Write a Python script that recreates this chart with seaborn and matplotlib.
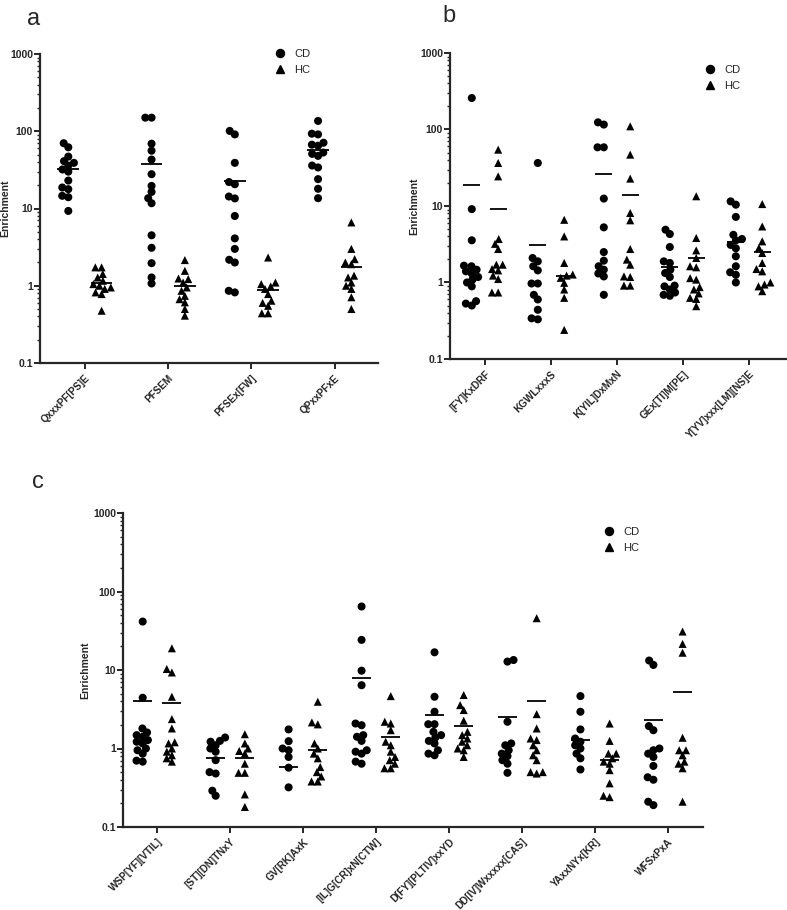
import numpy as np
import pandas as pd
import matplotlib
matplotlib.use("Agg")
import matplotlib.pyplot as plt
import seaborn as sns
from matplotlib.lines import Line2D
from matplotlib.collections import PathCollection
from matplotlib.ticker import LogLocator, NullFormatter

# ---- data ----
a_motifs = ["QxxxPF[PS]E", "PFSEM", "PFSEx[FW]", "QPxxPFxE"]
a_cd = [
    [70, 62, 47, 41, 39, 36, 32, 30, 23, 18.7, 17.8, 14.6, 14, 9.3],
    [150, 150, 69, 56, 43, 27.8, 19.6, 16.4, 13.6, 11.7, 4.5, 3.1, 1.96, 1.28, 1.07],
    [101, 91, 39, 22, 20.6, 14.3, 13.5, 8.0, 4.1, 3.0, 2.17, 2.0, 0.86, 0.82],
    [136, 93, 91, 71, 67, 65, 53, 51, 48, 36, 34, 24, 18, 13.6],
]
a_hc = [
    [1.73, 1.73, 1.42, 1.28, 1.16, 1.05, 1.0, 0.95, 0.91, 0.82, 0.78, 0.475],
    [2.15, 1.56, 1.24, 1.22, 1.1, 0.95, 0.86, 0.74, 0.67, 0.61, 0.5, 0.41],
    [2.32, 1.1, 1.05, 0.98, 0.91, 0.78, 0.64, 0.6, 0.55, 0.44, 0.44],
    [6.6, 3.0, 2.21, 2.0, 1.9, 1.35, 1.28, 1.1, 1.0, 0.91, 0.71, 0.5],
]
a_cd_mean = [32, 38, 22.5, 58]
a_hc_mean = [1.08, 1.0, 0.89, 1.75]

b_motifs = ["[FY]KxDRF", "KGWLxxxS", "K[YIL]DxMxN", "GEx[TI]M[PE]", "Y[YV]xxx[LM][NS]E"]
b_cd = [
    [258, 9.1, 3.56, 1.66, 1.63, 1.47, 1.4, 1.31, 1.18, 1.09, 1.0, 0.89, 0.57, 0.53, 0.5],
    [36.5, 2.09, 1.89, 1.63, 1.44, 0.97, 0.97, 0.69, 0.6, 0.44, 0.34, 0.33],
    [124, 116, 58.5, 58.5, 12.5, 5.26, 2.5, 1.93, 1.63, 1.47, 1.31, 1.2, 0.69],
    [4.9, 4.3, 2.91, 1.89, 1.8, 1.47, 1.33, 1.18, 0.91, 0.89, 0.81, 0.74, 0.69, 0.67],
    [11.5, 10.4, 7.2, 4.2, 3.7, 3.56, 3.1, 2.8, 2.2, 1.63, 1.36, 1.26, 1.0],
]
b_hc = [
    [54.5, 36.5, 24.4, 3.7, 3.2, 2.74, 1.71, 1.71, 1.5, 1.44, 1.23, 1.11, 0.74, 0.74],
    [6.6, 4.0, 1.8, 1.27, 1.23, 1.15, 0.99, 0.81, 0.63, 0.24],
    [110, 46.9, 22.8, 8.1, 6.5, 2.74, 1.99, 1.71, 1.2, 1.18, 0.91, 0.91],
    [13.4, 3.82, 2.63, 2.09, 1.63, 1.58, 1.14, 1.09, 0.87, 0.81, 0.72, 0.63, 0.61, 0.49],
    [10.6, 5.4, 3.45, 2.83, 2.43, 1.8, 1.5, 1.4, 1.0, 0.94, 0.89, 0.77],
]
b_cd_mean = [18.8, 3.1, 26, 1.6, 3.4]
b_hc_mean = [9.1, 1.2, 14, 2.1, 2.5]

c_motifs = ["WSP[YF][VTIL]", "[ST][DN]TNxY", "GV[RK]AxK", "[IL]G[CR]xN[CTW]",
            "D[FY][PLTIV]xxYD", "DD[IV]Wxxxxx[CAS]", "YAxxNYx[KR]", "WFSxPxA"]
c_cd = [
    [41.4, 4.43, 1.8, 1.6, 1.48, 1.41, 1.28, 1.22, 1.16, 1.0, 0.95, 0.86, 0.7, 0.68],
    [1.38, 1.25, 1.22, 1.1, 1.0, 0.91, 0.71, 0.5, 0.48, 0.29, 0.25],
    [1.75, 1.24, 1.0, 0.95, 0.78, 0.57, 0.32],
    [64.4, 24.2, 9.8, 6.4, 2.08, 1.98, 1.48, 1.41, 1.25, 0.95, 0.91, 0.86, 0.68, 0.64],
    [16.8, 4.56, 2.94, 2.04, 2.04, 1.63, 1.48, 1.38, 1.25, 1.16, 0.95, 0.86, 0.82],
    [13.4, 12.8, 2.19, 1.16, 1.1, 0.95, 0.86, 0.8, 0.71, 0.64, 0.49],
    [4.65, 2.94, 1.75, 1.34, 1.22, 1.1, 1.0, 0.86, 0.75, 0.54],
    [13.2, 11.6, 1.93, 1.71, 1.0, 0.95, 0.86, 0.78, 0.6, 0.43, 0.4, 0.21, 0.19],
]
c_hc = [
    [18.9, 10.3, 9.3, 4.56, 2.37, 1.8, 1.2, 1.16, 1.0, 0.91, 0.82, 0.75, 0.68],
    [1.52, 1.16, 1.0, 0.93, 0.86, 0.64, 0.49, 0.49, 0.26, 0.18],
    [3.94, 2.15, 2.03, 1.16, 1.0, 0.86, 0.75, 0.58, 0.5, 0.44, 0.38, 0.38],
    [4.65, 2.19, 2.08, 1.71, 1.22, 1.1, 0.91, 0.78, 0.71, 0.64, 0.56, 0.56],
    [4.8, 3.57, 3.09, 2.26, 1.63, 1.48, 1.34, 1.22, 1.1, 1.0, 0.95, 0.78],
    [45.7, 2.74, 1.8, 1.34, 1.28, 1.1, 0.95, 0.82, 0.71, 0.5, 0.5, 0.48],
    [2.08, 1.25, 0.86, 0.86, 0.75, 0.68, 0.64, 0.53, 0.36, 0.25, 0.24],
    [30.9, 21.5, 16.6, 1.37, 0.95, 0.95, 0.82, 0.68, 0.64, 0.56, 0.21],
]
c_cd_mean = [4.0, 0.75, 0.58, 7.8, 2.66, 2.55, 1.28, 2.34]
c_hc_mean = [3.83, 0.76, 0.97, 1.41, 1.93, 4.06, 0.71, 5.3]

groups = ["CD", "HC"]
y_ticks = [0.1, 1, 10, 100, 1000]
y_tick_labels = ["0.1", "1", "10", "100", "1000"]

sns.set_style("ticks")
plt.rcParams["font.family"] = ["Liberation Sans", "DejaVu Sans"]

SWARM_SIZE = 4.3   # spacing used to lay out the swarm (points overlap a bit, like prism)
MARKER_SIZE = 5.8  # size the markers are finally drawn at


def long_table(motifs, cd, hc):
    rows = []
    for grp, series in zip(groups, [cd, hc]):
        for motif, vals in zip(motifs, series):
            for v in vals:
                rows.append((motif, grp, v))
    return pd.DataFrame(rows, columns=["motif", "group", "enrichment"])


def draw_panel(ax, motifs, cd, hc, cd_mean, hc_mean, xlim, ylab_x, leg_xy):
    df = long_table(motifs, cd, hc)
    for grp, mk in zip(groups, ["o", "^"]):
        sns.swarmplot(data=df[df["group"] == grp], x="motif", y="enrichment",
                      hue="group", hue_order=groups, order=motifs, dodge=True,
                      palette={"CD": "black", "HC": "black"}, marker=mk,
                      size=SWARM_SIZE, linewidth=0, log_scale=True, legend=False,
                      warn_thresh=1, ax=ax)
    # mean bars
    pos = np.arange(len(motifs))
    ax.hlines(cd_mean, pos - 0.2 - 0.13, pos - 0.2 + 0.13, color="black", lw=1.3)
    ax.hlines(hc_mean, pos + 0.2 - 0.13, pos + 0.2 + 0.13, color="black", lw=1.3)

    ax.set_yscale("log")
    ax.set_ylim(0.1, 1000)
    ax.set_xlim(*xlim)
    ax.set_yticks(y_ticks)
    ax.set_yticklabels(y_tick_labels, fontweight="bold", fontsize=7.5)
    ax.yaxis.set_minor_locator(LogLocator(base=10, subs=np.arange(2, 10)))
    ax.yaxis.set_minor_formatter(NullFormatter())
    ax.set_xticks(pos)
    ax.set_xticklabels(motifs, rotation=45, ha="right", rotation_mode="anchor",
                       fontweight="bold", fontsize=7.2)
    ax.tick_params(axis="y", which="major", length=4, width=1.4, pad=1)
    ax.tick_params(axis="y", which="minor", length=2.5, width=1)
    ax.tick_params(axis="x", length=4, width=1.4, pad=3)
    ax.set_xlabel("")
    ax.set_ylabel("Enrichment", fontweight="bold", fontsize=7.5)
    ax.yaxis.set_label_coords(ylab_x, 0.5)
    sns.despine(ax=ax)
    for s in ["left", "bottom"]:
        ax.spines[s].set_linewidth(1.6)

    handles = [Line2D([], [], marker=m, ls="", color="black", markersize=MARKER_SIZE)
               for m in ["o", "^"]]
    ax.legend(handles, groups, loc="upper left", bbox_to_anchor=leg_xy,
              bbox_transform=fig.transFigure, frameon=False, fontsize=8,
              borderpad=0, borderaxespad=0, handlelength=1.0,
              handletextpad=0.8, labelspacing=0.55)


W, H = 787, 910
fig = plt.figure(figsize=(W / 100, H / 100), dpi=100)

ax_a = fig.add_axes([40 / W, 1 - 363 / H, 338 / W, 309 / H])
ax_b = fig.add_axes([450 / W, 1 - 359 / H, 336 / W, 306 / H])
ax_c = fig.add_axes([123 / W, 1 - 827 / H, 580 / W, 314 / H])

draw_panel(ax_a, a_motifs, a_cd, a_hc, a_cd_mean, a_hc_mean,
           (-0.54, 3.52), -0.089, (274 / W, 1 - 49 / H))
draw_panel(ax_b, b_motifs, b_cd, b_hc, b_cd_mean, b_hc_mean,
           (-0.53, 4.56), -0.092, (704 / W, 1 - 65 / H))
draw_panel(ax_c, c_motifs, c_cd, c_hc, c_cd_mean, c_hc_mean,
           (-0.47, 7.48), -0.057, (603 / W, 1 - 527 / H))

fig.text(27 / W, 1 - 25 / H, "a", fontsize=17)
fig.text(442 / W, 1 - 22 / H, "b", fontsize=17)
fig.text(32 / W, 1 - 488 / H, "c", fontsize=17)

# lay the swarms out once with the small spacing, then freeze them and enlarge markers
fig.canvas.draw()
for ax in [ax_a, ax_b, ax_c]:
    for coll in ax.collections:
        if isinstance(coll, PathCollection):
            coll.__dict__.pop("draw", None)
            coll.set_sizes([MARKER_SIZE ** 2])

fig.savefig("out.png", dpi=100)
